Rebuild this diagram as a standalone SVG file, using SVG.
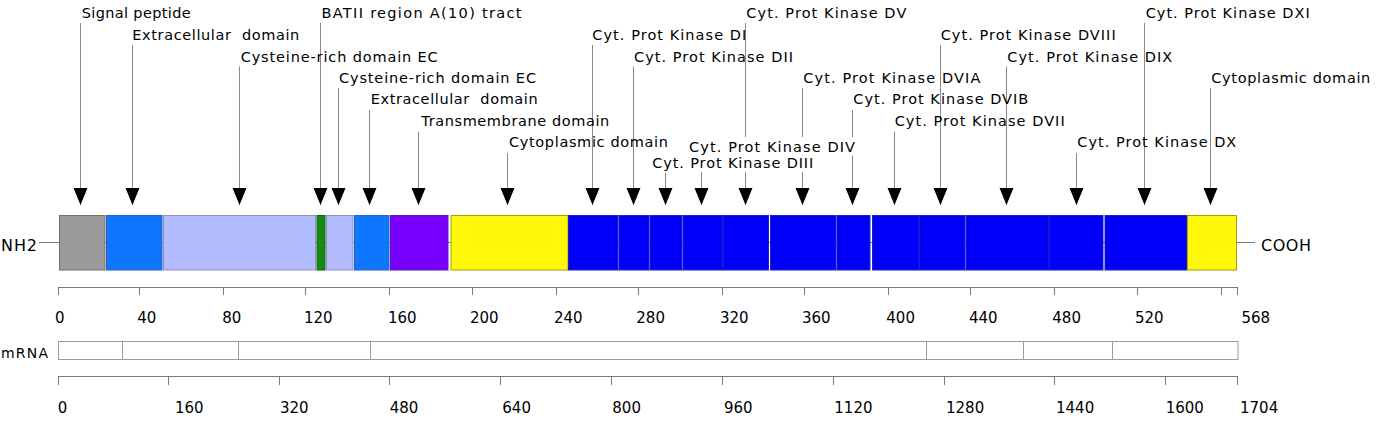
<svg xmlns="http://www.w3.org/2000/svg" width="1378" height="426" viewBox="0 0 1378 426">
<style>
text{font-family:"DejaVu Sans","Liberation Sans",sans-serif;fill:#000}
.lbl{font-size:14.5px;white-space:pre}
.num{font-size:15px}
.end{font-size:16px}
.conn{stroke:#8a8a8a;stroke-width:1;fill:none}
.ax{stroke:#7a7a7a;stroke-width:1;fill:none}
.mr{stroke:#9a9a9a;stroke-width:1;fill:#fff}
.seg{stroke-width:1}
.gray{fill:#9b9b9b;stroke:#6e6e6e}
.blue{fill:#0f76ff;stroke:#2a5fc0}
.light{fill:#b3bcff;stroke:#8890c8}
.green{fill:#168a16;stroke:#0e5e0e}
.purple{fill:#7800ff;stroke:#5418c0}
.yellow{fill:#fff80a;stroke:#a8a000}
.dblue{fill:#0000fa;stroke:#2020c0}
.bg{fill:#fff}
</style>
<defs>
<marker id="arr" markerUnits="userSpaceOnUse" markerWidth="18" markerHeight="16" viewBox="0 -8 18 16" refX="17" refY="0" orient="auto">
<path d="M0,-7 L17,0 L0,7 Z" fill="#000"/>
</marker>
</defs>

<!-- backbone -->
<line class="ax" x1="39" y1="242.5" x2="1255" y2="242.5"/>
<text class="end" x="1" y="250.7" textLength="36" lengthAdjust="spacing">NH2</text>
<text class="end" x="1261" y="251" textLength="50" lengthAdjust="spacing">COOH</text>

<!-- domain segments -->
<g id="seg-signal"><rect class="seg gray" x="59.5" y="215.5" width="45.5" height="54.5"/></g>
<g id="seg-extra1"><rect class="seg blue" x="106.5" y="215.5" width="55.5" height="54.5"/></g>
<g id="seg-cys1"><rect class="seg light" x="163.5" y="215.5" width="152" height="54.5"/></g>
<g id="seg-batii"><rect class="seg green" x="317" y="215.5" width="8" height="54.5"/></g>
<g id="seg-cys2"><rect class="seg light" x="326.5" y="215.5" width="26.5" height="54.5"/></g>
<g id="seg-extra2"><rect class="seg blue" x="354.5" y="215.5" width="34.5" height="54.5"/></g>
<g id="seg-tm"><rect class="seg purple" x="390.5" y="215.5" width="57.5" height="54.5"/></g>
<g id="seg-cyto1"><rect class="seg yellow" x="451" y="215.5" width="117" height="54.5"/></g>
<g id="seg-DI"><rect class="seg dblue" x="568.5" y="215.5" width="49.5" height="54.5"/></g>
<g id="seg-DII"><rect class="seg dblue" x="619" y="215.5" width="30" height="54.5"/></g>
<g id="seg-DIII"><rect class="seg dblue" x="650" y="215.5" width="32" height="54.5"/></g>
<g id="seg-DIV"><rect class="seg dblue" x="683" y="215.5" width="39.5" height="54.5"/></g>
<g id="seg-DV"><rect class="seg dblue" x="723" y="215.5" width="45.5" height="54.5"/></g>
<g id="seg-DVIA"><rect class="seg dblue" x="770.5" y="215.5" width="65.5" height="54.5"/></g>
<g id="seg-DVIB"><rect class="seg dblue" x="837" y="215.5" width="33" height="54.5"/></g>
<g id="seg-DVII"><rect class="seg dblue" x="872.5" y="215.5" width="46.5" height="54.5"/></g>
<g id="seg-DVIII"><rect class="seg dblue" x="919.5" y="215.5" width="45.5" height="54.5"/></g>
<g id="seg-DIX"><rect class="seg dblue" x="966" y="215.5" width="83" height="54.5"/></g>
<g id="seg-DX"><rect class="seg dblue" x="1049.5" y="215.5" width="53.5" height="54.5"/></g>
<g id="seg-DXI"><rect class="seg dblue" x="1105" y="215.5" width="81.5" height="54.5"/></g>
<g id="seg-cyto2"><rect class="seg yellow" x="1187.5" y="215.5" width="49" height="54.5"/></g>

<!-- connectors -->
<g id="connectors" class="conn" marker-end="url(#arr)">
<line x1="80.5" y1="23" x2="80.5" y2="205"/>
<line x1="132.5" y1="45" x2="132.5" y2="205"/>
<line x1="239.5" y1="66.5" x2="239.5" y2="205"/>
<line x1="320.5" y1="23" x2="320.5" y2="205"/>
<line x1="338.5" y1="88" x2="338.5" y2="205"/>
<line x1="369.5" y1="110" x2="369.5" y2="205"/>
<line x1="418.5" y1="131.5" x2="418.5" y2="205"/>
<line x1="507.5" y1="153" x2="507.5" y2="205"/>
<line x1="592.5" y1="45" x2="592.5" y2="205"/>
<line x1="633.5" y1="66.5" x2="633.5" y2="205"/>
<line x1="665.5" y1="173" x2="665.5" y2="205"/>
<line x1="701.5" y1="157" x2="701.5" y2="205"/>
<line x1="745.5" y1="23" x2="745.5" y2="205"/>
<line x1="802.5" y1="88" x2="802.5" y2="205"/>
<line x1="852.5" y1="110" x2="852.5" y2="205"/>
<line x1="894.5" y1="131.5" x2="894.5" y2="205"/>
<line x1="940.5" y1="45" x2="940.5" y2="205"/>
<line x1="1006.5" y1="66.5" x2="1006.5" y2="205"/>
<line x1="1076.5" y1="153" x2="1076.5" y2="205"/>
<line x1="1144.5" y1="23" x2="1144.5" y2="205"/>
<line x1="1210.5" y1="88" x2="1210.5" y2="205"/>
</g>

<!-- labels -->
<g id="lbl-signal"><text class="lbl" x="81.7" y="18.3" textLength="109" lengthAdjust="spacing">Signal peptide</text></g>
<g id="lbl-extra1"><text class="lbl" x="132.3" y="40.3" textLength="167" lengthAdjust="spacing">Extracellular  domain</text></g>
<g id="lbl-cys1"><text class="lbl" x="240.7" y="61.6" textLength="197" lengthAdjust="spacing">Cysteine-rich domain EC</text></g>
<g id="lbl-batii"><text class="lbl" x="321.5" y="18.3" textLength="200" lengthAdjust="spacing">BATII region A(10) tract</text></g>
<g id="lbl-cys2"><text class="lbl" x="339" y="83" textLength="197" lengthAdjust="spacing">Cysteine-rich domain EC</text></g>
<g id="lbl-extra2"><text class="lbl" x="370.7" y="104.4" textLength="167" lengthAdjust="spacing">Extracellular  domain</text></g>
<g id="lbl-tm"><text class="lbl" x="421.3" y="125.5" textLength="188" lengthAdjust="spacing">Transmembrane domain</text></g>
<g id="lbl-cyto1"><text class="lbl" x="509" y="147.3" textLength="159" lengthAdjust="spacing">Cytoplasmic domain</text></g>
<g id="lbl-DI"><text class="lbl" x="592.3" y="40.3" textLength="154" lengthAdjust="spacing">Cyt. Prot Kinase DI</text></g>
<g id="lbl-DII"><text class="lbl" x="634" y="61.6" textLength="159" lengthAdjust="spacing">Cyt. Prot Kinase DII</text></g>
<g id="lbl-DIV"><rect class="bg" x="688" y="137" width="169" height="18.5"/><text class="lbl" x="689" y="151.6" textLength="166" lengthAdjust="spacing">Cyt. Prot Kinase DIV</text></g>
<g id="lbl-DIII"><rect class="bg" x="651" y="155.5" width="164" height="16.5"/><text class="lbl" x="652.3" y="168.3" textLength="161" lengthAdjust="spacing">Cyt. Prot Kinase DIII</text></g>
<g id="lbl-DV"><text class="lbl" x="746.3" y="18.3" textLength="160" lengthAdjust="spacing">Cyt. Prot Kinase DV</text></g>
<g id="lbl-DVIA"><text class="lbl" x="803.3" y="83" textLength="177" lengthAdjust="spacing">Cyt. Prot Kinase DVIA</text></g>
<g id="lbl-DVIB"><text class="lbl" x="853.3" y="104.4" textLength="175" lengthAdjust="spacing">Cyt. Prot Kinase DVIB</text></g>
<g id="lbl-DVII"><text class="lbl" x="894.7" y="125.5" textLength="170" lengthAdjust="spacing">Cyt. Prot Kinase DVII</text></g>
<g id="lbl-DVIII"><text class="lbl" x="940.7" y="40.3" textLength="175" lengthAdjust="spacing">Cyt. Prot Kinase DVIII</text></g>
<g id="lbl-DIX"><text class="lbl" x="1007.3" y="61.6" textLength="165" lengthAdjust="spacing">Cyt. Prot Kinase DIX</text></g>
<g id="lbl-DX"><text class="lbl" x="1077.3" y="147.3" textLength="159" lengthAdjust="spacing">Cyt. Prot Kinase DX</text></g>
<g id="lbl-DXI"><text class="lbl" x="1145.7" y="18.3" textLength="164" lengthAdjust="spacing">Cyt. Prot Kinase DXI</text></g>
<g id="lbl-cyto2"><text class="lbl" x="1211.3" y="83" textLength="159" lengthAdjust="spacing">Cytoplasmic domain</text></g>

<!-- protein axis -->
<g id="axis-protein">
<path class="ax" d="M58 287.5H1238M58.5 287.5V295M139.5 287.5V295M223.5 287.5V295M305.5 287.5V295M389.5 287.5V295M472.5 287.5V295M556.5 287.5V295M638.5 287.5V295M722.5 287.5V295M804.5 287.5V295M888.5 287.5V295M970.5 287.5V295M1054.5 287.5V295M1137.5 287.5V295M1221.5 287.5V295M1237.5 287.5V295"/>
<text class="num" x="55" y="322.7">0</text>
<text class="num" x="137.3" y="322.7">40</text>
<text class="num" x="222.3" y="322.7">80</text>
<text class="num" x="304" y="322.7">120</text>
<text class="num" x="388" y="322.7">160</text>
<text class="num" x="470" y="322.7">200</text>
<text class="num" x="554" y="322.7">240</text>
<text class="num" x="636.3" y="322.7">280</text>
<text class="num" x="720" y="322.7">320</text>
<text class="num" x="802" y="322.7">360</text>
<text class="num" x="886.3" y="322.7">400</text>
<text class="num" x="969" y="322.7">440</text>
<text class="num" x="1052.3" y="322.7">480</text>
<text class="num" x="1135" y="322.7">520</text>
<text class="num" x="1241.5" y="322.7">568</text>
</g>

<!-- mRNA -->
<g id="mrna">
<text x="1" y="358.3" style="font-size:14px" textLength="47" lengthAdjust="spacing">mRNA</text>
<rect class="mr" x="58.5" y="341.5" width="1179.5" height="18"/>
<path class="mr" d="M122.5 341.5V359.5M238.5 341.5V359.5M370.5 341.5V359.5M926.5 341.5V359.5M1023.5 341.5V359.5M1112.5 341.5V359.5"/>
</g>

<!-- nucleotide axis -->
<g id="axis-nt">
<path class="ax" d="M58 376.5H1238M58.5 376.5V385M168.5 376.5V385M279.5 376.5V385M389.5 376.5V385M500.5 376.5V385M611.5 376.5V385M722.5 376.5V385M833.5 376.5V385M944.5 376.5V385M1054.5 376.5V385M1165.5 376.5V385M1237.5 376.5V385"/>
<text class="num" x="57.7" y="412.7">0</text>
<text class="num" x="175" y="412.7">160</text>
<text class="num" x="280" y="412.7">320</text>
<text class="num" x="389.7" y="412.7">480</text>
<text class="num" x="502.3" y="412.7">640</text>
<text class="num" x="612.3" y="412.7">800</text>
<text class="num" x="724" y="412.7">960</text>
<text class="num" x="834.3" y="412.7">1120</text>
<text class="num" x="946" y="412.7">1280</text>
<text class="num" x="1056" y="412.7">1440</text>
<text class="num" x="1165.7" y="412.7">1600</text>
<text class="num" x="1240" y="412.7">1704</text>
</g>
</svg>
